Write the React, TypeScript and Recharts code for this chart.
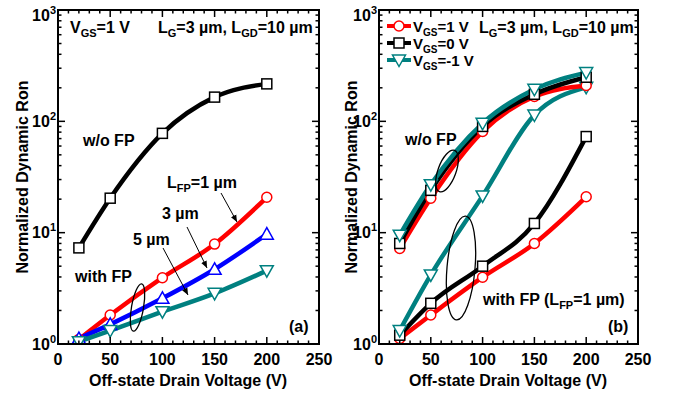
import React from "react";
import { LineChart, Line, XAxis, YAxis } from "recharts";

const FONT = '"Liberation Sans", Arial, Helvetica, sans-serif';

// off-state drain voltage (V)
const voltage = [20, 50, 100, 150, 200];

// panel (a): VGS = 1 V
const woFpA = [7.3, 20.4, 78, 165, 217];
const lfp1A = [1.1, 1.82, 3.94, 7.9, 20.8];
const lfp3A = [1.12, 1.5, 2.57, 4.69, 9.7];
const lfp5A = [1.05, 1.32, 1.95, 2.85, 4.56];

// panel (b): w/o FP and with FP (LFP = 1 um)
const woFpVgs1 = [7.2, 20.4, 81, 167, 210];
const woFpVgs0 = [8.0, 24, 90, 175, 249];
const woFpVgsM1 = [9.5, 27, 96, 194, 274];
const fpVgs1 = [1.12, 1.82, 3.98, 8.0, 21];
const fpVgs0 = [1.2, 2.32, 5.0, 12.1, 73];
const fpVgsM1 = [1.32, 4.17, 21.4, 114, 202];

const xTicks = [0, 10, 20, 30, 40, 50, 60, 70, 80, 90, 100, 110, 120, 130, 140, 150, 160, 170, 180, 190, 200, 210, 220, 230, 240, 250];
const yTicks = [1, 2, 3, 4, 5, 6, 7, 8, 9, 10, 20, 30, 40, 50, 60, 70, 80, 90, 100, 200, 300, 400, 500, 600, 700, 800, 900, 1000];
const yDecades = [1, 10, 100, 1000];
const yExponents = ["0", "1", "2", "3"];

const dataA = voltage.map((v, i) => ({ v, woFp: woFpA[i], lfp1: lfp1A[i], lfp3: lfp3A[i], lfp5: lfp5A[i] }));
const dataB = voltage.map((v, i) => ({
  v,
  wo1: woFpVgs1[i],
  wo0: woFpVgs0[i],
  woM1: woFpVgsM1[i],
  fp1: fpVgs1[i],
  fp0: fpVgs0[i],
  fpM1: fpVgsM1[i],
}));

const RED = "#ff0000";
const BLUE = "#0000ff";
const TEAL = "#008080";
const BLACK = "#000000";

// plot box geometry (page pixels), shared by the charts and the frame overlay
const CHART_W = 337;
const CHART_H = 397;
const PLOT_TOP = 10;
const X_AXIS_H = 53;
const PLOT_BOTTOM = CHART_H - X_AXIS_H;
const PANELS = [
  { left: 0, yAxisW: 58, rightGap: 18 },
  { left: CHART_W, yAxisW: 42, rightGap: 36 },
];

const circleDot = (color: string) => (p: any) => (
  <circle key={`c-${p.index}`} cx={p.cx} cy={p.cy} r={5} fill="#fff" stroke={color} strokeWidth={1.5} />
);
const squareDot = (color: string) => (p: any) => (
  <rect key={`s-${p.index}`} x={p.cx - 5} y={p.cy - 5} width={10} height={10} fill="#fff" stroke={color} strokeWidth={1.5} />
);
const triUpDot = (color: string) => (p: any) => (
  <polygon
    key={`u-${p.index}`}
    points={`${p.cx},${p.cy - 6.5} ${p.cx - 6.5},${p.cy + 5} ${p.cx + 6.5},${p.cy + 5}`}
    fill="#fff"
    stroke={color}
    strokeWidth={1.5}
  />
);
const triDownDot = (color: string) => (p: any) => (
  <polygon
    key={`d-${p.index}`}
    points={`${p.cx},${p.cy + 6.5} ${p.cx - 6.5},${p.cy - 5} ${p.cx + 6.5},${p.cy - 5}`}
    fill="#fff"
    stroke={color}
    strokeWidth={1.5}
  />
);

function BottomTick(props: any) {
  const { x, y, payload } = props;
  const v = payload.value;
  const major = v % 50 === 0;
  return (
    <g>
      <line x1={x} x2={x} y1={y} y2={y - (major ? 7 : 3.5)} stroke="#000" strokeWidth={1.5} />
      {major && (
        <text x={x} y={y + 21} textAnchor="middle" fontSize={16} fontWeight="bold" fontFamily={FONT} fill="#000">
          {v}
        </text>
      )}
    </g>
  );
}

function LeftTick(props: any) {
  const { x, y, payload } = props;
  const k = yDecades.indexOf(payload.value);
  const major = k >= 0;
  // top label sits a bit lower so it stays inside the page
  const base = k === 3 ? y + 11 : y + 5.5;
  return (
    <g>
      <line x1={x} x2={x + (major ? 7 : 3.5)} y1={y} y2={y} stroke="#000" strokeWidth={1.5} />
      {major && (
        <text x={x - 2} y={base} textAnchor="end" fontSize={16} fontWeight="bold" fontFamily={FONT} fill="#000">
          10
          <tspan fontSize={11} dy={-7}>
            {yExponents[k]}
          </tspan>
        </text>
      )}
    </g>
  );
}

// full box of each panel, with inward mirrored ticks on the top and right edges
function Frames() {
  return (
    <>
      {PANELS.map((p, i) => {
        const x0 = p.left + p.yAxisW;
        const x1 = p.left + CHART_W - p.rightGap;
        const sx = (v: number) => x0 + ((x1 - x0) * v) / 250;
        const sy = (v: number) => PLOT_BOTTOM - ((PLOT_BOTTOM - PLOT_TOP) * Math.log10(v)) / 3;
        return (
          <g key={i}>
            <rect x={x0} y={PLOT_TOP} width={x1 - x0} height={PLOT_BOTTOM - PLOT_TOP} fill="none" stroke="#000" strokeWidth={2} />
            {xTicks.map((t) => (
              <line
                key={`t${t}`}
                x1={sx(t)}
                x2={sx(t)}
                y1={PLOT_TOP}
                y2={PLOT_TOP + (t % 50 === 0 ? 7 : 3.5)}
                stroke="#000"
                strokeWidth={1.5}
              />
            ))}
            {yTicks.map((t) => (
              <line
                key={`r${t}`}
                x1={x1}
                x2={x1 - (yDecades.includes(t) ? 7 : 3.5)}
                y1={sy(t)}
                y2={sy(t)}
                stroke="#000"
                strokeWidth={1.5}
              />
            ))}
          </g>
        );
      })}
    </>
  );
}

const txt = { fontFamily: FONT, fontWeight: "bold" as const, fill: "#000" };

function Sub({ children, size = 11 }: { children: string; size?: number }) {
  return (
    <tspan fontSize={size} dy={4}>
      {children}
    </tspan>
  );
}

function Overlay() {
  return (
    <svg width={674} height={397} style={{ position: "absolute", left: 0, top: 0, pointerEvents: "none" }}>
      <defs>
        <marker id="ah" markerWidth="8" markerHeight="8" refX="7" refY="4" orient="auto" markerUnits="userSpaceOnUse">
          <path d="M0,1 L7,4 L0,7 Z" fill="#000" />
        </marker>
      </defs>
      <Frames />
      <text {...txt} fontSize={16} transform="translate(28,177) rotate(-90)" textAnchor="middle">
        Normalized Dynamic Ron
      </text>
      <text {...txt} fontSize={16} transform="translate(357,177) rotate(-90)" textAnchor="middle">
        Normalized Dynamic Ron
      </text>
      <text {...txt} fontSize={16} x={188} y={386} textAnchor="middle">
        Off-state Drain Voltage (V)
      </text>
      <text {...txt} fontSize={16} x={508} y={386} textAnchor="middle">
        Off-state Drain Voltage (V)
      </text>

      {/* panel (a) */}
      <text {...txt} fontSize={16} x={70} y={33}>
        V<Sub>GS</Sub>
        <tspan dy={-4}>=1 V</tspan>
      </text>
      <text {...txt} fontSize={16} x={158} y={33}>
        L<Sub>G</Sub>
        <tspan dy={-4}>=3 µm, L</tspan>
        <Sub>GD</Sub>
        <tspan dy={-4}>=10 µm</tspan>
      </text>
      <text {...txt} fontSize={16} x={83} y={146}>
        w/o FP
      </text>
      <text {...txt} fontSize={16} x={167} y={188}>
        L<Sub>FP</Sub>
        <tspan dy={-4}>=1 µm</tspan>
      </text>
      <line x1={221} y1={193} x2={237} y2={222} stroke="#000" strokeWidth={1} markerEnd="url(#ah)" />
      <text {...txt} fontSize={16} x={162} y={219}>
        3 µm
      </text>
      <line x1={187} y1={227} x2={207} y2={268} stroke="#000" strokeWidth={1} markerEnd="url(#ah)" />
      <text {...txt} fontSize={16} x={133} y={245}>
        5 µm
      </text>
      <line x1={163} y1={248} x2={188} y2={295} stroke="#000" strokeWidth={1} markerEnd="url(#ah)" />
      <text {...txt} fontSize={16} x={75} y={282}>
        with FP
      </text>
      <ellipse cx={137.5} cy={307.5} rx={6} ry={24} transform="rotate(10 137.5 307.5)" fill="none" stroke="#000" strokeWidth={1.3} />
      <text {...txt} fontSize={16} x={289} y={332}>
        (a)
      </text>

      {/* panel (b) legend */}
      <line x1={387} x2={411} y1={26} y2={26} stroke={RED} strokeWidth={4} />
      <circle cx={399} cy={26} r={5} fill="#fff" stroke={RED} strokeWidth={1.5} />
      <text {...txt} fontSize={15} x={413} y={32}>
        V<Sub size={10}>GS</Sub>
        <tspan dy={-4}>=1 V</tspan>
      </text>
      <line x1={387} x2={411} y1={43} y2={43} stroke={BLACK} strokeWidth={4} />
      <rect x={394} y={38} width={10} height={10} fill="#fff" stroke={BLACK} strokeWidth={1.5} />
      <text {...txt} fontSize={15} x={413} y={49}>
        V<Sub size={10}>GS</Sub>
        <tspan dy={-4}>=0 V</tspan>
      </text>
      <line x1={387} x2={411} y1={60} y2={60} stroke={TEAL} strokeWidth={4} />
      <polygon points="399,66.5 392.5,55 405.5,55" fill="#fff" stroke={TEAL} strokeWidth={1.5} />
      <text {...txt} fontSize={15} x={413} y={66}>
        V<Sub size={10}>GS</Sub>
        <tspan dy={-4}>=-1 V</tspan>
      </text>

      <text {...txt} fontSize={16} x={479} y={33}>
        L<Sub>G</Sub>
        <tspan dy={-4}>=3 µm, L</tspan>
        <Sub>GD</Sub>
        <tspan dy={-4}>=10 µm</tspan>
      </text>
      <text {...txt} fontSize={16} x={405} y={145}>
        w/o FP
      </text>
      <ellipse cx={447} cy={171} rx={9} ry={22} transform="rotate(20 447 171)" fill="none" stroke="#000" strokeWidth={1.3} />
      <ellipse cx={461} cy={268} rx={14} ry={52} transform="rotate(5 461 268)" fill="none" stroke="#000" strokeWidth={1.3} />
      <text {...txt} fontSize={16} x={483} y={305}>
        with FP (L<Sub>FP</Sub>
        <tspan dy={-4}>=1 µm)</tspan>
      </text>
      <text {...txt} fontSize={16} x={608} y={332}>
        (b)
      </text>
    </svg>
  );
}

const axisLine = { stroke: "#000", strokeWidth: 2 };

function PanelAxes(yAxisW: number) {
  return [
    <XAxis
      key="x"
      dataKey="v"
      type="number"
      domain={[0, 250]}
      ticks={xTicks}
      interval={0}
      height={X_AXIS_H}
      tickSize={0}
      tickMargin={0}
      tickLine={false}
      axisLine={axisLine}
      tick={<BottomTick />}
    />,
    <YAxis
      key="y"
      type="number"
      scale="log"
      domain={[1, 1000]}
      allowDataOverflow
      ticks={yTicks}
      interval={0}
      width={yAxisW}
      tickSize={0}
      tickMargin={0}
      tickLine={false}
      axisLine={axisLine}
      tick={<LeftTick />}
    />,
  ];
}

export default function App() {
  const lw = 4.5;
  return (
    <div style={{ position: "absolute", left: 0, top: 0, width: 674, height: 397, background: "#fff" }}>
      <div style={{ position: "absolute", left: PANELS[0].left, top: 0 }}>
        <LineChart
          width={CHART_W}
          height={CHART_H}
          data={dataA}
          margin={{ top: PLOT_TOP, right: PANELS[0].rightGap, bottom: 0, left: 0 }}
        >
          {PanelAxes(PANELS[0].yAxisW)}
          <Line type="monotone" dataKey="woFp" stroke={BLACK} strokeWidth={lw} dot={squareDot(BLACK)} isAnimationActive={false} />
          <Line type="monotone" dataKey="lfp1" stroke={RED} strokeWidth={lw} dot={circleDot(RED)} isAnimationActive={false} />
          <Line type="monotone" dataKey="lfp3" stroke={BLUE} strokeWidth={lw} dot={triUpDot(BLUE)} isAnimationActive={false} />
          <Line type="monotone" dataKey="lfp5" stroke={TEAL} strokeWidth={lw} dot={triDownDot(TEAL)} isAnimationActive={false} />
        </LineChart>
      </div>
      <div style={{ position: "absolute", left: PANELS[1].left, top: 0 }}>
        <LineChart
          width={CHART_W}
          height={CHART_H}
          data={dataB}
          margin={{ top: PLOT_TOP, right: PANELS[1].rightGap, bottom: 0, left: 0 }}
        >
          {PanelAxes(PANELS[1].yAxisW)}
          <Line type="monotone" dataKey="fp1" stroke={RED} strokeWidth={lw} dot={circleDot(RED)} isAnimationActive={false} />
          <Line type="monotone" dataKey="fp0" stroke={BLACK} strokeWidth={lw} dot={squareDot(BLACK)} isAnimationActive={false} />
          <Line type="monotone" dataKey="fpM1" stroke={TEAL} strokeWidth={lw} dot={triDownDot(TEAL)} isAnimationActive={false} />
          <Line type="monotone" dataKey="wo1" stroke={RED} strokeWidth={lw} dot={circleDot(RED)} isAnimationActive={false} />
          <Line type="monotone" dataKey="wo0" stroke={BLACK} strokeWidth={lw} dot={squareDot(BLACK)} isAnimationActive={false} />
          <Line type="monotone" dataKey="woM1" stroke={TEAL} strokeWidth={lw} dot={triDownDot(TEAL)} isAnimationActive={false} />
        </LineChart>
      </div>
      <Overlay />
    </div>
  );
}
